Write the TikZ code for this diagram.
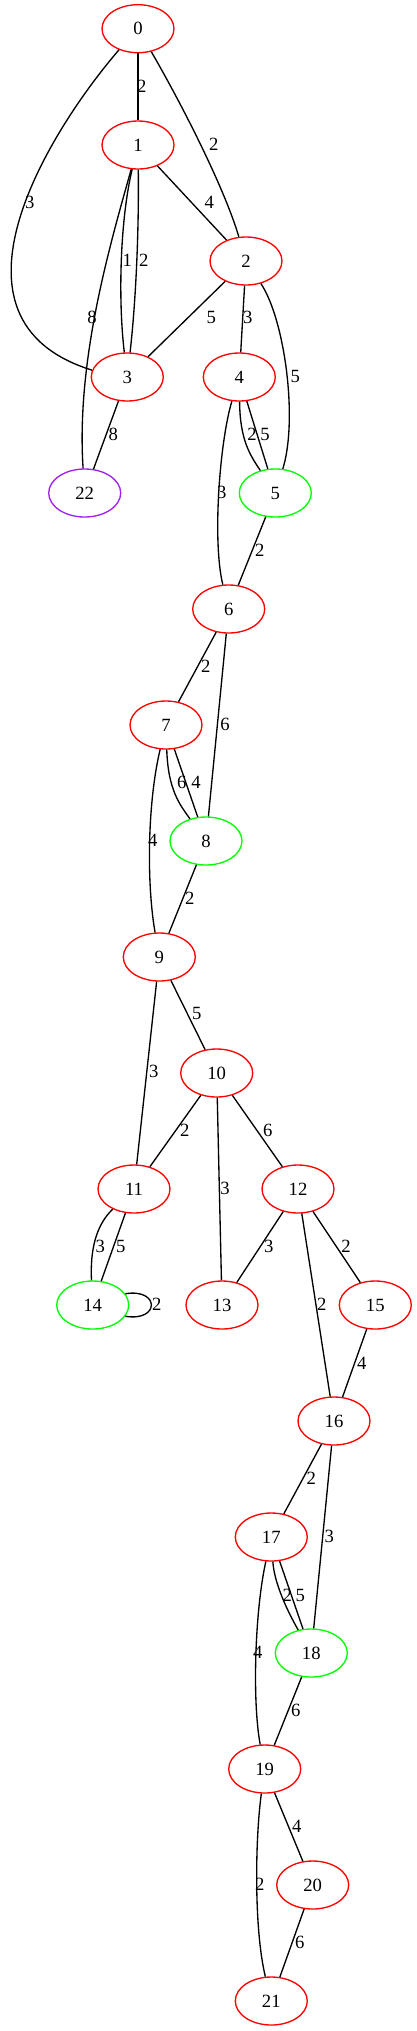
\documentclass[tikz,border=0pt]{standalone}
\usepackage{fontspec}
\setmainfont{Liberation Serif}
\usetikzlibrary{shapes.geometric}
\definecolor{gvred}{RGB}{255,0,0}
\definecolor{gvgreen}{RGB}{0,255,0}
\definecolor{gvpurple}{RGB}{160,32,240}
\begin{document}
\begin{tikzpicture}[x=0.75pt, y=-0.75pt, line width=1pt,
  every node/.style={font=\fontsize{14}{16}\selectfont},
  vert/.style={draw, ellipse, minimum width=54pt, minimum height=36pt, inner sep=0pt},
  redv/.style={vert, gvred}, greenv/.style={vert, gvgreen}, purplev/.style={vert, gvpurple},
  elab/.style={inner sep=0pt}]
\useasboundingbox (0,0) rectangle (417,2031);
% vertices
\node[redv] (n0) at (138,28.7) {\textcolor{black}{0}};
\node[redv] (n1) at (138,145) {\textcolor{black}{1}};
\node[redv] (n2) at (246,261) {\textcolor{black}{2}};
\node[redv] (n3) at (127.3,377) {\textcolor{black}{3}};
\node[redv] (n4) at (239.3,377) {\textcolor{black}{4}};
\node[purplev] (n22) at (84.7,493) {\textcolor{black}{22}};
\node[greenv] (n5) at (275.3,493) {\textcolor{black}{5}};
\node[redv] (n6) at (228.7,609) {\textcolor{black}{6}};
\node[redv] (n7) at (166,725) {\textcolor{black}{7}};
\node[greenv] (n8) at (206,841) {\textcolor{black}{8}};
\node[redv] (n9) at (159.3,957) {\textcolor{black}{9}};
\node[redv] (n10) at (216.7,1073) {\textcolor{black}{10}};
\node[redv] (n11) at (134,1189) {\textcolor{black}{11}};
\node[redv] (n12) at (298,1189) {\textcolor{black}{12}};
\node[greenv] (n14) at (92.7,1305) {\textcolor{black}{14}};
\node[redv] (n13) at (222,1305) {\textcolor{black}{13}};
\node[redv] (n15) at (375.3,1305) {\textcolor{black}{15}};
\node[redv] (n16) at (334,1421) {\textcolor{black}{16}};
\node[redv] (n17) at (271.3,1537) {\textcolor{black}{17}};
\node[greenv] (n18) at (311.3,1653) {\textcolor{black}{18}};
\node[redv] (n19) at (264.7,1769) {\textcolor{black}{19}};
\node[redv] (n20) at (312.7,1885) {\textcolor{black}{20}};
\node[redv] (n21) at (271.3,2001) {\textcolor{black}{21}};
% edges
\draw (n0) -- (n1);
\draw (n0) .. controls (185,110) and (225,190) .. (n2);
\draw (n0.228) .. controls (50,130) and (-70,320) .. (n3.169);
\draw (n1) -- (n2);
\draw (n1) .. controls (120,220) and (118,300) .. (n3);
\draw (n1) .. controls (139,230) and (136,300) .. (n3);
\draw (n1) .. controls (110,245) and (76,360) .. (n22);
\draw (n2) -- (n3);
\draw (n2) -- (n4);
\draw (n2) .. controls (285,320) and (298,420) .. (n5);
\draw (n3) -- (n22);
\draw (n4) .. controls (240,440) and (250,455) .. (n5);
\draw (n4) -- (n5);
\draw (n4) .. controls (220,440) and (212,540) .. (n6);
\draw (n5) -- (n6);
\draw (n6) -- (n7);
\draw (n6) -- (n8);
\draw (n7) .. controls (168,790) and (180,805) .. (n8);
\draw (n7) -- (n8);
\draw (n7) .. controls (148,800) and (146,880) .. (n9);
\draw (n8) -- (n9);
\draw (n9) -- (n10);
\draw (n9) -- (n11);
\draw (n10) -- (n11);
\draw (n10) -- (n12);
\draw (n10) -- (n13);
\draw (n11) .. controls (96,1225) and (90,1250) .. (n14);
\draw (n11) -- (n14);
\draw (n14.19) .. controls (160,1288) and (160,1322) .. (n14.-19);
\draw (n12) -- (n13);
\draw (n12) -- (n15);
\draw (n12) -- (n16);
\draw (n15) -- (n16);
\draw (n16) -- (n17);
\draw (n16) -- (n18);
\draw (n17) .. controls (274,1580) and (284,1605) .. (n18);
\draw (n17) -- (n18);
\draw (n17) .. controls (255,1610) and (252,1700) .. (n19);
\draw (n18) -- (n19);
\draw (n19) -- (n20);
\draw (n19) .. controls (255,1840) and (254,1930) .. (n21);
\draw (n20) -- (n21);
% edge labels
\foreach \x/\y/\t [count=\i] in {141.7/86.7/2, 213.7/144/2, 29.7/202/3, 209.3/202/4,
    127.3/260/1, 143.7/260/2, 92/317.7/8, 211.3/317.7/5, 247.7/317.7/3, 295.3/376/5,
    113.3/434.3/8, 252/434.3/2, 265/434.3/5, 221.7/492/3, 259.7/550/2, 205.7/666/2,
    225/724/6, 181.7/782/6, 196/782/4, 152.7/840.3/4, 189.7/898.7/2, 196.7/1013.3/5,
    153.7/1071.7/3, 184.7/1130/2, 267.7/1130/6, 225/1188/3, 100.3/1246.3/3, 120.7/1246.3/5,
    156.7/1304/2, 268.7/1246.3/3, 346/1246.3/2, 321.7/1304/2, 361.7/1363/4, 311.3/1478.3/2,
    329.3/1536/3, 287.3/1595/2, 300.3/1595/5, 257.7/1652/4, 295.7/1710.7/6, 296.7/1826.7/4,
    259.7/1884/2, 299.7/1942.3/6}
  \node[elab] (lab\i) at (\x,\y) {\t};
\end{tikzpicture}
\end{document}
